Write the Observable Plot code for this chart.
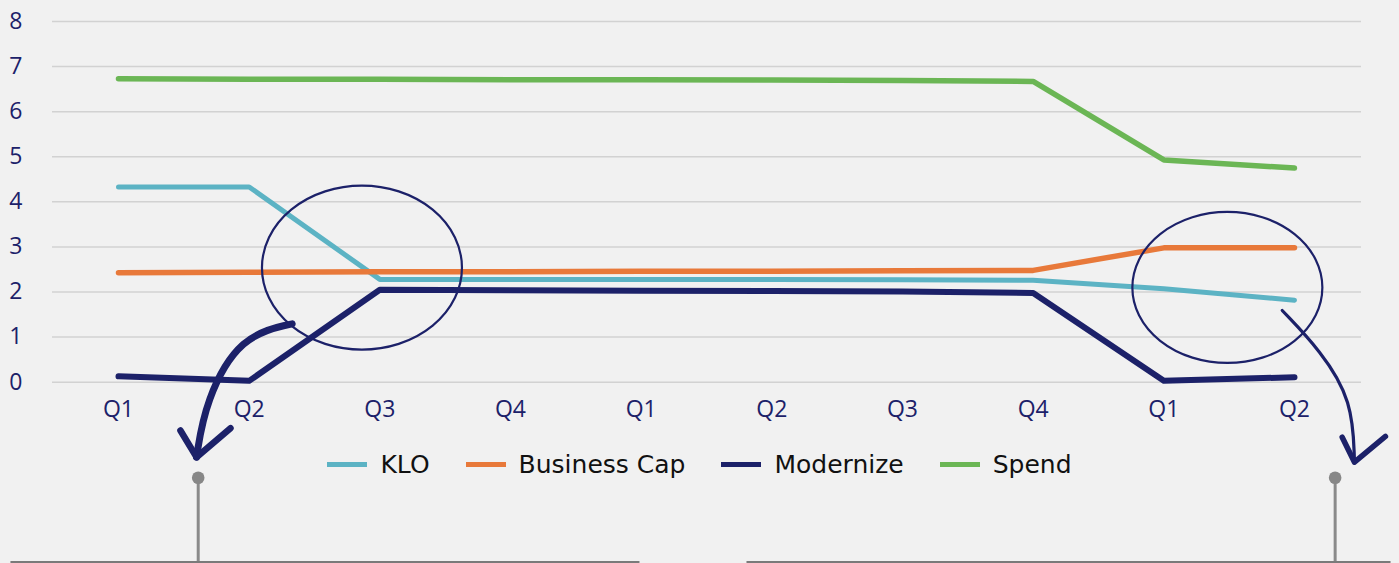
<!DOCTYPE html>
<html>
<head>
<meta charset="utf-8">
<script src="https://cdn.jsdelivr.net/npm/d3@7"></script>
<script src="https://cdn.jsdelivr.net/npm/@observablehq/plot@0.6"></script>
<style>
  html, body { margin: 0; padding: 0; background: #f1f1f1; }
  #wrap { position: relative; width: 1399px; height: 563px; overflow: hidden; }
  #legend { position: absolute; left: 0; width: 1399px; top: 450px; display: flex; justify-content: center; align-items: center;
            font-family: "DejaVu Sans", sans-serif; font-size: 25px; color: #111; }
  .item { display: flex; align-items: center; margin: 0 18px; }
  .sw { width: 40px; height: 5px; margin-right: 13px; }
</style>
</head>
<body>
<div id="wrap"><div id="legend"></div></div>
<script>
// ---- data ----
const quarters = ["Q1","Q2","Q3","Q4","Q1","Q2","Q3","Q4","Q1","Q2"];
const yTicks = [0,1,2,3,4,5,6,7,8];
const klo          = [4.33, 4.33, 2.28, 2.28, 2.28, 2.28, 2.27, 2.26, 2.07, 1.82];
const businessCap  = [2.43, 2.44, 2.45, 2.45, 2.46, 2.46, 2.47, 2.48, 2.98, 2.98];
const modernize    = [0.13, 0.03, 2.05, 2.04, 2.03, 2.02, 2.01, 1.98, 0.03, 0.11];
const spend        = [6.73, 6.72, 6.72, 6.71, 6.71, 6.70, 6.69, 6.67, 4.93, 4.75];
const seriesNames  = ["KLO", "Business Cap", "Modernize", "Spend"];
const seriesColors = ["#5cb3c4", "#e8793a", "#1c2169", "#6bb655"];

// ---- annotations (in data units: x = quarter index, y = value) ----
const leftArrowX  = [1.329, 0.934, 0.666, 0.597];
const leftArrowY  = [1.295, 1.035, -0.406, -1.663];
const leftHeadX   = [0.474, 0.597, 0.857];
const leftHeadY   = [-1.071, -1.663, -1.020];
const rightArrowX = [8.906, 9.199, 9.444, 9.459];
const rightArrowY = [1.590, 0.703, -0.407, -1.774];
const rightHeadX  = [9.365, 9.459, 9.696];
const rightHeadY  = [-1.220, -1.774, -1.204];
const ellipseCX   = [1.867, 8.49];
const ellipseCY   = [2.53, 2.09];
const ellipseRX   = [100, 95];
const ellipseRY   = [82, 75.5];
const pinX        = [0.610, 9.311];
const pinTopY     = -2.12;
const pinBottomY  = -4.1;
const baseY       = -3.99;
const baseX1      = [-0.827, 4.806];
const baseX2      = [3.987, 9.735];

const idx = d3.range(quarters.length);
const navy = "#1c2169";
const lineOpts = (vals, color, w) => ({x: i => i, y: i => vals[i], stroke: color, strokeWidth: w, strokeLinecap: "round", strokeLinejoin: "round"});

const plot = Plot.plot({
  width: 1399, height: 563,
  marginTop: 21, marginBottom: 181, marginLeft: 52, marginRight: 38,
  style: {background: "transparent", fontFamily: "Open Sans, sans-serif", overflow: "visible"},
  x: {type: "linear", domain: [0, 9], range: [118, 1294]},
  y: {domain: [0, 8], range: [381.7, 21]},
  marks: [
    Plot.ruleY(yTicks, {stroke: "#d2d2d2", strokeWidth: 1.5}),
    Plot.axisY(yTicks, {anchor: "left", tickSize: 0, tickPadding: 30, fontSize: 23, color: navy, label: null}),
    Plot.axisX(idx, {anchor: "bottom", tickSize: 0, tickPadding: 18, fontSize: 23, color: navy, tickFormat: i => quarters[i], label: null}),
    Plot.line(idx, lineOpts(spend, seriesColors[3], 5.5)),
    Plot.line(idx, lineOpts(klo, seriesColors[0], 5)),
    Plot.line(idx, lineOpts(businessCap, seriesColors[1], 5.5)),
    Plot.line(idx, lineOpts(modernize, seriesColors[2], 6)),
    // arrows
    Plot.line(d3.range(leftArrowX.length), {x: i => leftArrowX[i], y: i => leftArrowY[i], curve: "basis", stroke: navy, strokeWidth: 7, strokeLinecap: "round"}),
    Plot.line(d3.range(3), {x: i => leftHeadX[i], y: i => leftHeadY[i], stroke: navy, strokeWidth: 6.5, strokeLinecap: "round", strokeLinejoin: "round"}),
    Plot.line(d3.range(rightArrowX.length), {x: i => rightArrowX[i], y: i => rightArrowY[i], curve: "basis", stroke: navy, strokeWidth: 3.2, strokeLinecap: "round"}),
    Plot.line(d3.range(3), {x: i => rightHeadX[i], y: i => rightHeadY[i], stroke: navy, strokeWidth: 5.5, strokeLinecap: "round", strokeLinejoin: "round"}),
    // pins and base lines
    Plot.ruleX(pinX, {x: d => d, y1: pinTopY, y2: pinBottomY, stroke: "#8a8a8a", strokeWidth: 3}),
    Plot.dot(pinX, {x: d => d, y: pinTopY, r: 6.3, fill: "#878787", stroke: null}),
    Plot.link([0, 1], {x1: i => baseX1[i], x2: i => baseX2[i], y1: baseY, y2: baseY, stroke: "#7a7a7a", strokeWidth: 2})
  ]
});

const sx = plot.scale("x"), sy = plot.scale("y");
const svg = d3.select(plot);
ellipseCX.forEach((cx, i) => {
  svg.append("ellipse")
    .attr("cx", sx.apply(cx)).attr("cy", sy.apply(ellipseCY[i]))
    .attr("rx", ellipseRX[i]).attr("ry", ellipseRY[i])
    .attr("fill", "none").attr("stroke", navy).attr("stroke-width", 2.2);
});

const wrap = document.getElementById("wrap");
wrap.insertBefore(plot, wrap.firstChild);
plot.style.position = "absolute"; plot.style.left = "0"; plot.style.top = "0";

const legend = d3.select("#legend");
seriesNames.forEach((name, i) => {
  const it = legend.append("div").attr("class", "item");
  it.append("div").attr("class", "sw").style("background", seriesColors[i]);
  it.append("span").text(name);
});
</script>
</body>
</html>
